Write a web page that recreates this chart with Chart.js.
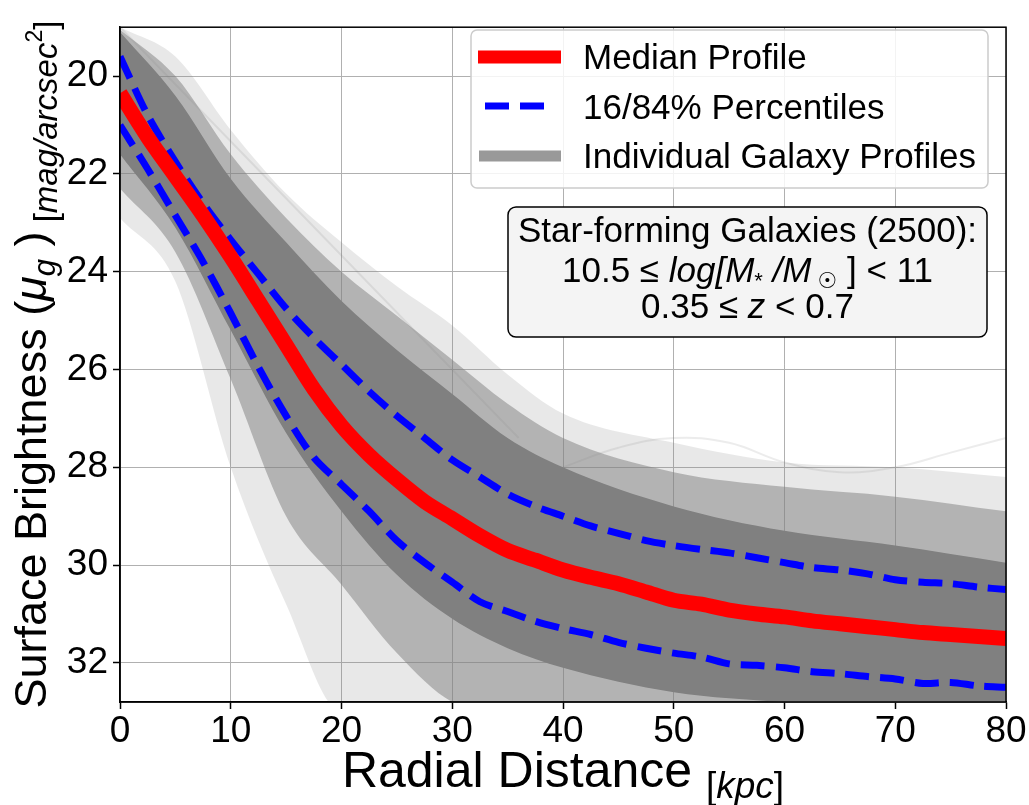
<!DOCTYPE html>
<html>
<head>
<meta charset="utf-8">
<script src="https://cdn.jsdelivr.net/npm/chart.js@4.4.0/dist/chart.umd.min.js"></script>
<style>
  body { margin: 0; background: #fff; }
  #wrap { width: 1029px; height: 805px; }
</style>
</head>
<body>
<div id="wrap"><canvas id="profiles" width="1029" height="805"></canvas></div>
<script>
// radial distance (kpc) for the median / percentile curves
const radius = [0, 2.5, 5, 7.5, 10, 12.5, 15, 17.5, 20, 22.5, 25, 27.5, 30, 32.5, 35, 37.5, 40,
  42.5, 45, 47.5, 50, 52.5, 55, 57.5, 60, 62.5, 65, 67.5, 70, 72.5, 75, 77.5, 80];
const median = [20.35, 21.25, 22.05, 22.85, 23.7, 24.6, 25.5, 26.4, 27.15, 27.75, 28.25, 28.7, 29.05,
  29.4, 29.7, 29.9, 30.1, 30.25, 30.38, 30.55, 30.72, 30.8, 30.92, 31.0, 31.06, 31.14, 31.2, 31.26,
  31.32, 31.38, 31.42, 31.46, 31.5];
const pctUpper = [19.6, 20.8, 21.75, 22.6, 23.35, 24.05, 24.75, 25.35, 25.9, 26.45, 26.95, 27.4, 27.85,
  28.2, 28.55, 28.8, 29.0, 29.2, 29.35, 29.5, 29.6, 29.68, 29.75, 29.85, 29.95, 30.05, 30.1, 30.18,
  30.3, 30.35, 30.38, 30.45, 30.5];
const pctLower = [21.0, 21.9, 22.85, 23.8, 24.85, 25.95, 26.95, 27.8, 28.35, 28.9, 29.5, 29.95, 30.35,
  30.75, 30.95, 31.15, 31.3, 31.42, 31.58, 31.7, 31.8, 31.88, 32.02, 32.05, 32.1, 32.18, 32.22, 32.28,
  32.33, 32.42, 32.4, 32.47, 32.5];

// envelope of the individual galaxy profiles (dense core, medium, faint outskirts)
const bandX = [0, 5, 10, 15, 20, 25, 30, 35, 40, 50, 60, 70, 80];
const coreTop = [19.1, 20.4, 22.1, 23.4, 24.6, 25.6, 26.5, 27.4, 28.0, 28.8, 29.3, 29.6, 29.95];
const coreBottom = [21.6, 23.1, 25.2, 27.3, 28.9, 30.2, 31.1, 31.7, 32.1, 32.6, 32.8, 32.9, 33.0];
const semiTop = [19.05, 20.0, 21.6, 22.9, 24.0, 24.9, 25.8, 26.7, 27.4, 28.1, 28.4, 28.6, 28.9];
const semiBottom = [22.3, 23.6, 26.2, 29.0, 30.4, 31.8, 32.8, 33.0, 33.0, 33.0, 33.0, 33.0, 33.0];
const faintTop = [19.0, 19.6, 21.1, 22.4, 23.4, 24.3, 25.1, 26.1, 26.9, 27.5, 27.9, 28.0, 28.2];
const faintBottom = [22.9, 24.2, 28.0, 30.8, 33.0, 33.0, 33.0, 33.0, 33.0, 33.0, 33.0, 33.0, 33.0];

// a couple of stray single profiles visible in the white area
const strayAX = [0, 36];
const strayA = [19.0, 27.4];
const strayBX = [40, 45, 50, 55, 60, 65, 70, 75, 80];
const strayB = [28.0, 27.6, 27.4, 27.5, 27.9, 28.1, 28.0, 27.7, 27.4];

const xTicks = [0, 10, 20, 30, 40, 50, 60, 70, 80];
const yTicks = [20, 22, 24, 26, 28, 30, 32];

const FONT = '"Liberation Sans", Arial, "DejaVu Sans", sans-serif';

function pts(xs, ys) {
  return xs.map((x, i) => ({ x: x, y: ys[i] }));
}

function edge(xs, ys, fill, color, order) {
  return {
    data: pts(xs, ys),
    borderWidth: 0,
    borderColor: 'rgba(0,0,0,0)',
    backgroundColor: color,
    fill: fill,
    cubicInterpolationMode: 'monotone',
    order: order,
    clip: 0,
  };
}

// rich text: parts = [text, size, italic, dy]
function richWidth(ctx, parts) {
  let w = 0;
  parts.forEach(p => {
    ctx.font = (p[2] ? 'italic ' : '') + p[1] + 'px ' + FONT;
    w += ctx.measureText(p[0]).width;
  });
  return w;
}
function drawRich(ctx, parts, x, y) {
  let cx = x - richWidth(ctx, parts) / 2;
  ctx.textAlign = 'left';
  ctx.textBaseline = 'alphabetic';
  parts.forEach(p => {
    ctx.font = (p[2] ? 'italic ' : '') + p[1] + 'px ' + FONT;
    ctx.fillText(p[0], cx, y + (p[3] || 0));
    cx += ctx.measureText(p[0]).width;
  });
}
function roundRect(ctx, x, y, w, h, r) {
  ctx.beginPath();
  ctx.moveTo(x + r, y);
  ctx.arcTo(x + w, y, x + w, y + h, r);
  ctx.arcTo(x + w, y + h, x, y + h, r);
  ctx.arcTo(x, y + h, x, y, r);
  ctx.arcTo(x, y, x + w, y, r);
  ctx.closePath();
}

const decorations = {
  id: 'decorations',
  afterDraw(chart) {
    const ctx = chart.ctx;
    const a = chart.chartArea;
    ctx.save();

    // top / right spines
    ctx.strokeStyle = '#000';
    ctx.lineWidth = 1.5;
    ctx.strokeRect(a.left, a.top, a.right - a.left, a.bottom - a.top);

    // legend
    roundRect(ctx, 471, 30, 517, 158, 6);
    ctx.fillStyle = 'rgba(255,255,255,0.85)';
    ctx.fill();
    ctx.strokeStyle = '#cccccc';
    ctx.lineWidth = 1.5;
    ctx.stroke();

    ctx.lineCap = 'butt';
    ctx.strokeStyle = '#ff0000';
    ctx.lineWidth = 13;
    ctx.beginPath(); ctx.moveTo(478, 57); ctx.lineTo(561, 57); ctx.stroke();
    ctx.strokeStyle = '#0000ff';
    ctx.lineWidth = 7;
    ctx.setLineDash([24, 11]);
    ctx.beginPath(); ctx.moveTo(485, 106); ctx.lineTo(555, 106); ctx.stroke();
    ctx.setLineDash([]);
    ctx.strokeStyle = '#999999';
    ctx.lineWidth = 11;
    ctx.beginPath(); ctx.moveTo(479, 156); ctx.lineTo(561, 156); ctx.stroke();

    ctx.fillStyle = '#000';
    ctx.font = '35px ' + FONT;
    ctx.textAlign = 'left';
    ctx.textBaseline = 'alphabetic';
    ctx.fillText('Median Profile', 583, 69);
    ctx.fillText('16/84% Percentiles', 583, 119);
    ctx.fillText('Individual Galaxy Profiles', 583, 168);

    // annotation box
    roundRect(ctx, 508, 207, 479, 130, 8);
    ctx.fillStyle = '#f4f4f4';
    ctx.fill();
    ctx.strokeStyle = '#000';
    ctx.lineWidth = 1.5;
    ctx.stroke();
    ctx.fillStyle = '#000';
    const cx = 747.5;
    drawRich(ctx, [['Star-forming Galaxies (2500):', 35]], cx, 242);
    drawRich(ctx, [['10.5 \u2264 ', 35], ['log[M', 35, true], ['*', 22, false, 6], [' /M', 35, true],
      [' \u2609', 22, false, 6], [' ]', 35], [' < 11', 35]], cx, 282);
    drawRich(ctx, [['0.35 \u2264 ', 35], ['z', 35, true], [' < 0.7', 35]], cx, 318);

    // axis titles
    const midX = (a.left + a.right) / 2;
    drawRich(ctx, [['Radial Distance ', 50], ['[', 37, false, 11], ['kpc', 37, true, 11], [']', 37, false, 11]], midX, 787);

    ctx.translate(46, (a.top + a.bottom) / 2);
    ctx.rotate(-Math.PI / 2);
    drawRich(ctx, [['Surface Brightness (', 45], ['\u03bc', 45, true], ['g', 31, true, 9], [' )', 45],
      [' [', 33, false, 11], ['mag/arcsec', 33, true, 11], ['2', 23, false, -4], [']', 33, false, 11]], 0, 0);
    ctx.restore();
  }
};

new Chart(document.getElementById('profiles').getContext('2d'), {
  type: 'line',
  data: {
    datasets: [
      { data: pts(radius, median), borderColor: '#ff0000', borderWidth: 15, tension: 0.3, order: 0, clip: 0 },
      { data: pts(radius, pctUpper), borderColor: '#0000ff', borderWidth: 7, borderDash: [24, 11], tension: 0.3, order: 1, clip: 0 },
      { data: pts(radius, pctLower), borderColor: '#0000ff', borderWidth: 7, borderDash: [24, 11], tension: 0.3, order: 2, clip: 0 },
      edge(bandX, coreTop, '+1', '#808080', 3),
      edge(bandX, coreBottom, false, '#808080', 3),
      edge(bandX, semiTop, '+1', 'rgba(128,128,128,0.5)', 4),
      edge(bandX, semiBottom, false, 'rgba(128,128,128,0.5)', 4),
      edge(bandX, faintTop, '+1', 'rgba(128,128,128,0.18)', 5),
      edge(bandX, faintBottom, false, 'rgba(128,128,128,0.18)', 5),
      { data: pts(strayAX, strayA), borderColor: 'rgba(128,128,128,0.15)', borderWidth: 2, order: 6, clip: 0 },
      { data: pts(strayBX, strayB), borderColor: 'rgba(128,128,128,0.15)', borderWidth: 2, tension: 0.4, order: 6, clip: 0 },
    ],
  },
  options: {
    responsive: false,
    animation: false,
    events: [],
    layout: { padding: { top: 13, right: 23, left: 0, bottom: 0 } },
    elements: { point: { radius: 0 }, line: { borderJoinStyle: 'round' } },
    plugins: {
      legend: { display: false },
      tooltip: { enabled: false },
      title: { display: false },
    },
    scales: {
      x: {
        type: 'linear',
        min: 0,
        max: 80,
        afterBuildTicks: s => { s.ticks = xTicks.map(v => ({ value: v })); },
        afterFit: s => { s.height = 103; },
        grid: { color: '#b0b0b0', lineWidth: 1, tickColor: '#000', tickLength: 7, tickWidth: 1.5 },
        border: { color: '#000', width: 1.5 },
        ticks: { color: '#000', font: { family: FONT, size: 37 }, padding: 1, maxRotation: 0 },
      },
      y: {
        type: 'linear',
        reverse: true,
        min: 19,
        max: 32.8,
        afterBuildTicks: s => { s.ticks = yTicks.map(v => ({ value: v })); },
        afterFit: s => { s.width = 120; },
        grid: { color: '#b0b0b0', lineWidth: 1, tickColor: '#000', tickLength: 7, tickWidth: 1.5 },
        border: { color: '#000', width: 1.5 },
        ticks: { color: '#000', font: { family: FONT, size: 37 }, padding: 5 },
      },
    },
  },
  plugins: [decorations],
});
</script>
</body>
</html>
